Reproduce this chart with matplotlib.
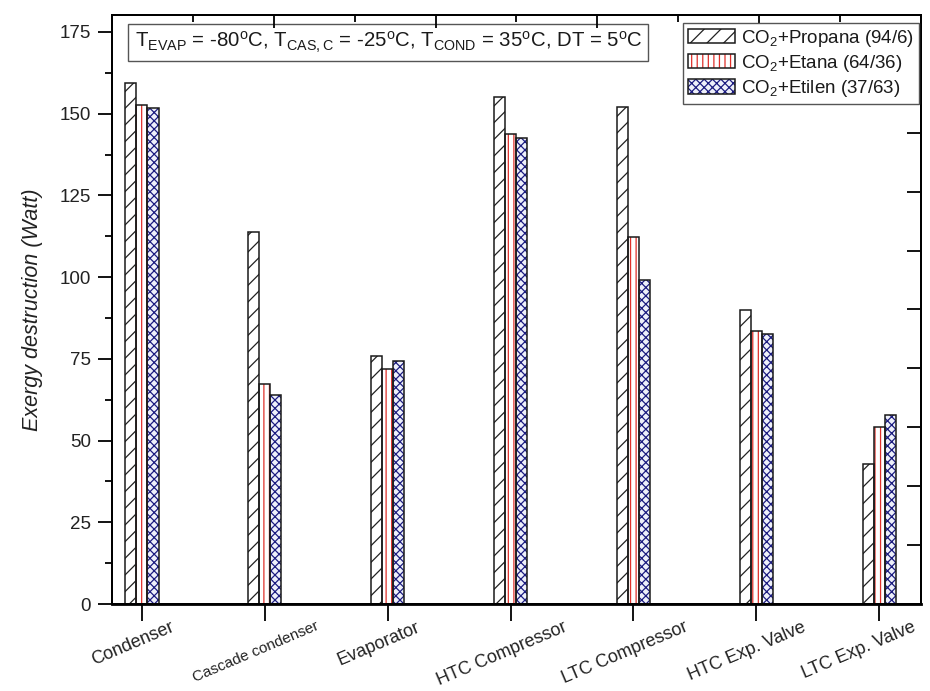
import numpy as np
import matplotlib
matplotlib.use("Agg")
import matplotlib.pyplot as plt
import matplotlib.transforms as mtransforms
from matplotlib.patches import Patch
from matplotlib.ticker import MultipleLocator, FixedLocator, NullFormatter

plt.rcParams['font.family'] = ['Liberation Sans', 'DejaVu Sans']
plt.rcParams['mathtext.default'] = 'regular'
plt.rcParams['hatch.linewidth'] = 0.9

categories = ["Condenser", "Cascade condenser", "Evaporator", "HTC Compressor",
              "LTC Compressor", "HTC Exp. Valve", "LTC Exp. Valve"]
series_names = [r"CO$_2$+Propana (94/6)", r"CO$_2$+Etana (64/36)", r"CO$_2$+Etilen (37/63)"]
propana = [159.3, 113.9, 75.9, 155.0, 151.9, 90.0, 42.8]
etana = [152.6, 67.3, 71.9, 143.8, 112.3, 83.5, 54.1]
etilen = [151.6, 63.9, 74.3, 142.5, 99.1, 82.6, 57.8]
yticks = [0, 25, 50, 75, 100, 125, 150, 175]

series = [propana, etana, etilen]
hatches = ['//', '|||', 'xxxx']
hatch_colors = ['#222222', '#e0302a', '#1c1c80']
face_colors = ['white', 'white', '#eef0fa']

fig = plt.figure(figsize=(9.30, 6.91), dpi=100)
ax = fig.add_axes([0.1204, 0.1259, 0.8699, 0.8524])

x = np.arange(len(categories))
w = 0.09
for i, (vals, h, hc, fc) in enumerate(zip(series, hatches, hatch_colors, face_colors)):
    pos = x + (i - 1) * w
    ax.bar(pos, vals, w, color=fc, edgecolor=hc, hatch=h, linewidth=0, zorder=2)
    ax.bar(pos, vals, w, fill=False, edgecolor='#1a1a1a', linewidth=1.1, zorder=3)

ax.set_xlim(-0.244, 6.34)
ax.set_ylim(0, 180.2)
ax.set_yticks(yticks)
ax.yaxis.set_minor_locator(MultipleLocator(12.5))
ax.tick_params(axis='y', which='major', direction='out', length=10, width=1.3,
               labelsize=13.5, labelcolor='#222222', right=False, pad=5)
ax.tick_params(axis='y', which='minor', direction='out', length=5, width=1.3, right=False)
ax.set_xticks(x)
ax.set_xticklabels(categories)
ax.tick_params(axis='x', which='major', direction='out', length=12, width=1.3, top=False, pad=0)
n = len(categories)
for k, (lbl, cat) in enumerate(zip(ax.get_xticklabels(), categories)):
    lbl.set_rotation(23)
    lbl.set_ha('center')
    lbl.set_fontsize(11 if cat == "Cascade condenser" else 13)
    lbl.set_color('#222222')
    dx = -20 if k == n - 1 else -9
    lbl.set_transform(lbl.get_transform() +
                      mtransforms.ScaledTranslation(dx / 100, 0.02, fig.dpi_scale_trans))
for sp in ax.spines.values():
    sp.set_linewidth(1.3)
ax.spines['bottom'].set_linewidth(2.0)

ax.set_ylabel("Exergy destruction (Watt)", fontsize=15.5, style='italic', color='#222222', labelpad=12)

# top axis ticks (secondary scale)
axt = ax.twiny()
axt.set_xlim(0, 5)
axt.xaxis.set_major_locator(MultipleLocator(1))
axt.xaxis.set_minor_locator(MultipleLocator(0.5))
axt.xaxis.set_major_formatter(NullFormatter())
axt.tick_params(axis='x', which='major', direction='in', length=9, width=1.3, top=True, bottom=False)
axt.tick_params(axis='x', which='minor', direction='in', length=5, width=1.3, top=True, bottom=False)

# right axis ticks (secondary scale)
axr = ax.twinx()
axr.set_ylim(0, 10)
axr.yaxis.set_major_locator(FixedLocator(np.arange(1, 10)))
axr.yaxis.set_major_formatter(NullFormatter())
axr.tick_params(axis='y', which='major', direction='in', length=10, width=1.3, right=True, left=False)
for a in (axt, axr):
    for sp in a.spines.values():
        sp.set_linewidth(1.3)

ax.text(0.028, 0.953,
        r"T$_{EVAP}$ = -80$^{o}$C, T$_{CAS,C}$ = -25$^{o}$C, T$_{COND}$ = 35$^{o}$C, DT = 5$^{o}$C",
        transform=ax.transAxes, fontsize=14.7, va='center', ha='left', color='#1a1a1a', zorder=5,
        bbox=dict(boxstyle='square,pad=0.3', fc='white', ec='#555555', lw=1.0))

handles = []
for h, hc, fc in zip(hatches, hatch_colors, face_colors):
    handles.append((Patch(facecolor=fc, edgecolor=hc, hatch=h, linewidth=0),
                    Patch(fill=False, edgecolor='#1a1a1a', linewidth=1.1)))
leg = axr.legend(handles, series_names, loc='upper right', bbox_to_anchor=(0.9975, 0.9864),
                 borderaxespad=0, fontsize=13.5, frameon=True, fancybox=False, framealpha=1,
                 edgecolor='#555555', handlelength=2.5, handleheight=0.8, labelspacing=0.22,
                 handletextpad=0.35, borderpad=0.25, labelcolor='#1a1a1a')
leg.get_frame().set_linewidth(1.0)

fig.savefig("out.png", dpi=100)
